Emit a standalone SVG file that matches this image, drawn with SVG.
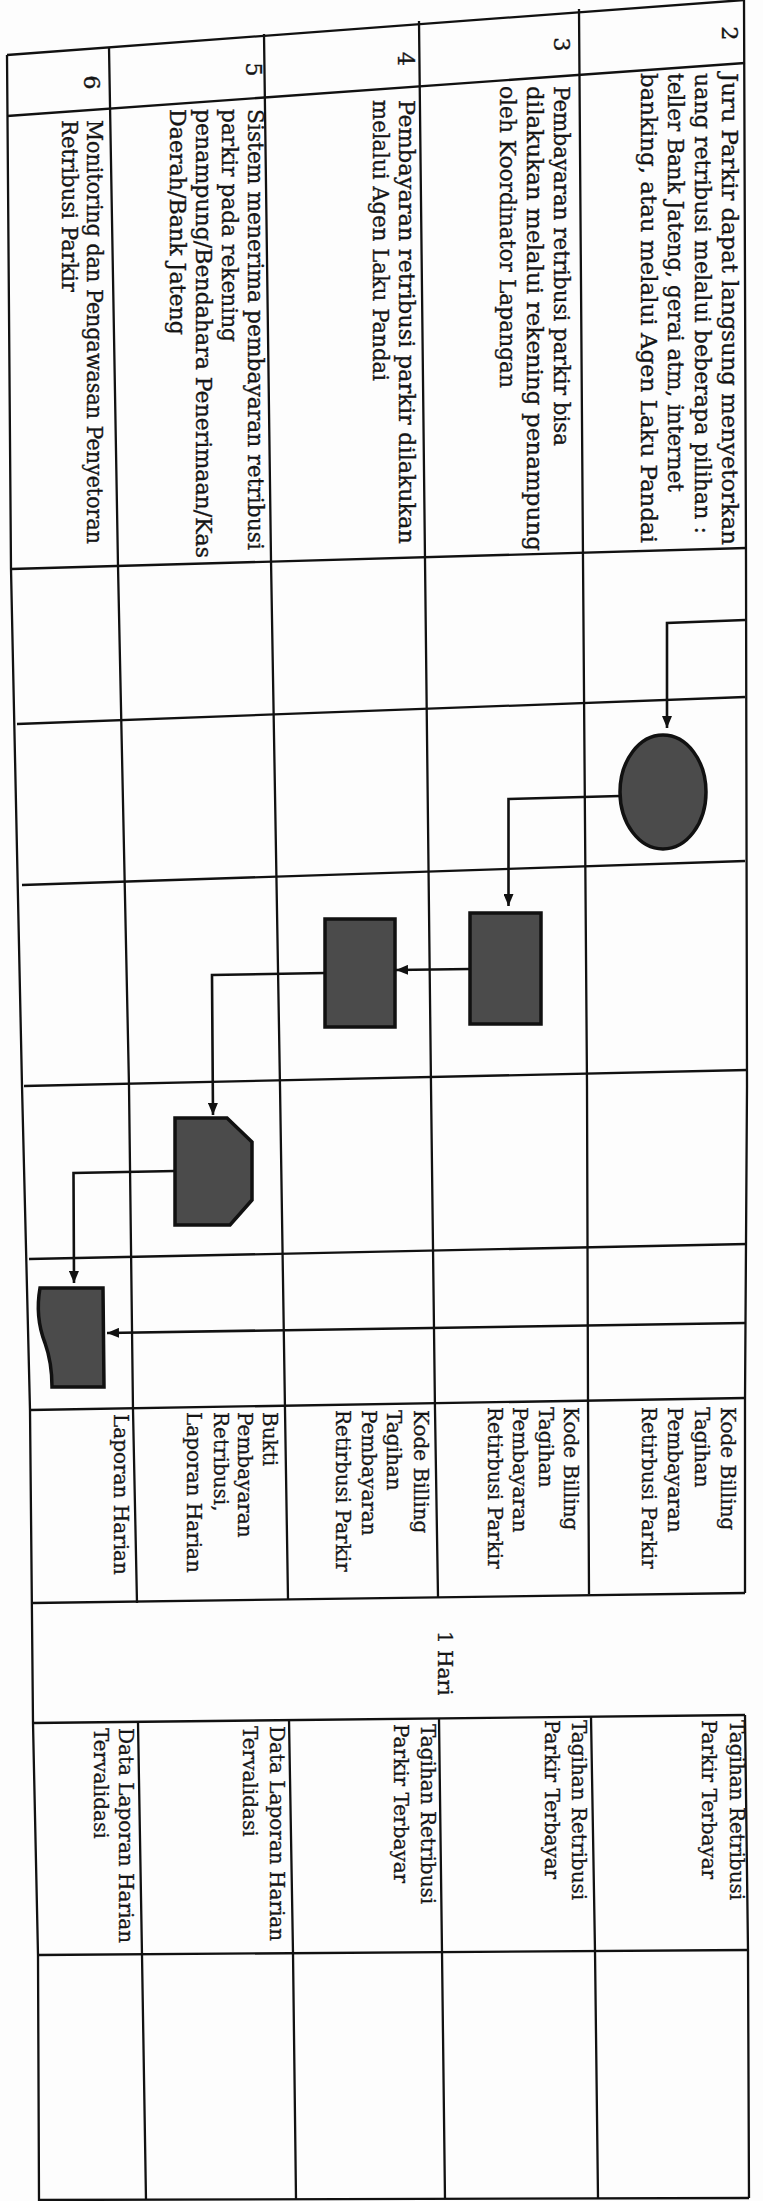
<svg xmlns="http://www.w3.org/2000/svg" width="763" height="2201" viewBox="0 0 763 2201">
<style>
.grid{fill:none;stroke:#111;stroke-width:2.3;stroke-linejoin:round}
.conn{fill:none;stroke:#111;stroke-width:2.6}
.shape{fill:#4b4b4b;stroke:#111;stroke-width:3.5;stroke-linejoin:miter}
.d{font-family:"DejaVu Serif","Liberation Serif",serif;font-size:22.5px;fill:#151515;stroke:#151515;stroke-width:0.35}
.s{font-family:"DejaVu Serif","Liberation Serif",serif;font-size:20px;fill:#151515;stroke:#151515;stroke-width:0.3}
.n{text-anchor:middle}
</style>
<defs>
<marker id="ah" viewBox="0 0 12 10" refX="12" refY="5" markerWidth="12" markerHeight="10" markerUnits="userSpaceOnUse" orient="auto"><path d="M0,0 L12,5 L0,10 z" fill="#111"/></marker>
</defs>
<rect x="0" y="0" width="763" height="2201" fill="#fdfdfd"/>
<g id="table" class="grid">
<polyline points="7,55 11,569 22,1086 30,1410 33,1723 38,1955 39,2201"/>
<polyline points="109,47 118,566 129,1086 133,1410 137,1603"/>
<polyline points="138,1722 142,1955 146,2200"/>
<polyline points="264,34 271,560 280,1086 285,1410 288,1599"/>
<polyline points="289,1719 293,1953 296,2199"/>
<polyline points="419,21 425,560 431,1086 435,1410 438,1597"/>
<polyline points="439,1718 442,1952 445,2199"/>
<polyline points="579,9 583,560 587,1086 588,1400 589,1594"/>
<polyline points="591,1716 595,1951 598,2198"/>
<polyline points="744,0 746,560 747,1086 745,1400 745,1593"/>
<polyline points="745,1715 748,1950 749,2198"/>
<line x1="7" y1="55" x2="744" y2="0"/>
<line x1="7" y1="116" x2="745" y2="63"/>
<line x1="11" y1="569" x2="746" y2="548"/>
<line x1="17" y1="724" x2="745" y2="697"/>
<line x1="22" y1="885" x2="745" y2="861"/>
<line x1="24" y1="1086" x2="747" y2="1070"/>
<line x1="29" y1="1259" x2="747" y2="1244"/>
<line x1="30" y1="1410" x2="745" y2="1398"/>
<line x1="33" y1="1603" x2="745" y2="1593"/>
<line x1="33" y1="1723" x2="745" y2="1715"/>
<line x1="38" y1="1955" x2="748" y2="1950"/>
<line x1="39" y1="2200" x2="749" y2="2198"/>
</g>
<g id="row2-text">
<text class="d n" transform="translate(722,33.5) rotate(90)">2</text>
<text class="d" transform="translate(722,73) rotate(90)" textLength="472" lengthAdjust="spacingAndGlyphs">Juru Parkir dapat langsung menyetorkan</text>
<text class="d" transform="translate(695,73) rotate(90)" textLength="461" lengthAdjust="spacingAndGlyphs">uang retribusi melalui beberapa pilihan :</text>
<text class="d" transform="translate(668,73) rotate(90)" textLength="419" lengthAdjust="spacingAndGlyphs">teller Bank Jateng, gerai atm, internet</text>
<text class="d" transform="translate(641,73) rotate(90)" textLength="470" lengthAdjust="spacingAndGlyphs">banking, atau melalui Agen Laku Pandai</text>
<text class="s" transform="translate(721,1407) rotate(90)">Kode Billing</text>
<text class="s" transform="translate(695,1407) rotate(90)">Tagihan</text>
<text class="s" transform="translate(668,1407) rotate(90)">Pembayaran</text>
<text class="s" transform="translate(642,1407) rotate(90)">Retirbusi Parkir</text>
<text class="s" transform="translate(730,1720) rotate(90)">Tagihan Retribusi</text>
<text class="s" transform="translate(702,1720) rotate(90)">Parkir Terbayar</text>
</g>
<g id="row3-text">
<text class="d n" transform="translate(554,44.5) rotate(90)">3</text>
<text class="d" transform="translate(554,86) rotate(90)" textLength="360" lengthAdjust="spacingAndGlyphs">Pembayaran retribusi parkir bisa</text>
<text class="d" transform="translate(527,86) rotate(90)" textLength="465" lengthAdjust="spacingAndGlyphs">dilakukan melalui rekening penampung</text>
<text class="d" transform="translate(500,86) rotate(90)" textLength="302" lengthAdjust="spacingAndGlyphs">oleh Koordinator Lapangan</text>
<text class="s" transform="translate(564,1407) rotate(90)">Kode Billing</text>
<text class="s" transform="translate(539,1407) rotate(90)">Tagihan</text>
<text class="s" transform="translate(513,1407) rotate(90)">Pembayaran</text>
<text class="s" transform="translate(488,1407) rotate(90)">Retirbusi Parkir</text>
<text class="s" transform="translate(572,1720) rotate(90)">Tagihan Retribusi</text>
<text class="s" transform="translate(545,1720) rotate(90)">Parkir Terbayar</text>
</g>
<g id="row4-text">
<text class="d n" transform="translate(398,59) rotate(90)">4</text>
<text class="d" transform="translate(399,100) rotate(90)" textLength="444" lengthAdjust="spacingAndGlyphs">Pembayaran retribusi parkir dilakukan</text>
<text class="d" transform="translate(373,100) rotate(90)" textLength="281" lengthAdjust="spacingAndGlyphs">melalui Agen Laku Pandai</text>
<text class="s" transform="translate(414,1410) rotate(90)">Kode Billing</text>
<text class="s" transform="translate(387,1410) rotate(90)">Tagihan</text>
<text class="s" transform="translate(362,1410) rotate(90)">Pembayaran</text>
<text class="s" transform="translate(336,1410) rotate(90)">Retirbusi Parkir</text>
<text class="s" transform="translate(421,1724) rotate(90)">Tagihan Retribusi</text>
<text class="s" transform="translate(394,1724) rotate(90)">Parkir Terbayar</text>
</g>
<g id="row5-text">
<text class="d n" transform="translate(246,69.5) rotate(90)">5</text>
<text class="d" transform="translate(248,109) rotate(90)" textLength="441" lengthAdjust="spacingAndGlyphs">Sistem menerima pembayaran retribusi</text>
<text class="d" transform="translate(222,109) rotate(90)" textLength="233" lengthAdjust="spacingAndGlyphs">parkir pada rekening</text>
<text class="d" transform="translate(196,109) rotate(90)" textLength="449" lengthAdjust="spacingAndGlyphs">penampung/Bendahara Penerimaan/Kas</text>
<text class="d" transform="translate(170,109) rotate(90)" textLength="226" lengthAdjust="spacingAndGlyphs">Daerah/Bank Jateng</text>
<text class="s" transform="translate(263,1412) rotate(90)">Bukti</text>
<text class="s" transform="translate(238,1412) rotate(90)">Pembayaran</text>
<text class="s" transform="translate(214,1412) rotate(90)">Retribusi,</text>
<text class="s" transform="translate(187,1412) rotate(90)">Laporan Harian</text>
<text class="s" transform="translate(270,1726) rotate(90)">Data Laporan Harian</text>
<text class="s" transform="translate(243,1726) rotate(90)">Tervalidasi</text>
</g>
<g id="row6-text">
<text class="d n" transform="translate(84,82.5) rotate(90)">6</text>
<text class="d" transform="translate(87,120) rotate(90)" textLength="424" lengthAdjust="spacingAndGlyphs">Monitoring dan Pengawasan Penyetoran</text>
<text class="d" transform="translate(62,120) rotate(90)" textLength="172" lengthAdjust="spacingAndGlyphs">Retribusi Parkir</text>
<text class="s" transform="translate(114,1414) rotate(90)">Laporan Harian</text>
<text class="s" transform="translate(119,1728) rotate(90)">Data Laporan Harian</text>
<text class="s" transform="translate(94,1728) rotate(90)">Tervalidasi</text>
</g>
<g id="duration">
<text class="s" transform="translate(438,1631) rotate(90)">1 Hari</text>
</g>
<g id="connectors">
<path class="conn" d="M745,620 L667,623 L667,728" marker-end="url(#ah)"/>
<path class="conn" d="M620,796 L508.5,799 L508.5,906" marker-end="url(#ah)"/>
<path class="conn" d="M470,969 L396,970" marker-end="url(#ah)"/>
<path class="conn" d="M325,973 L212,975 L213,1115" marker-end="url(#ah)"/>
<path class="conn" d="M175,1171 L73.5,1173 L74,1283" marker-end="url(#ah)"/>
<path class="conn" d="M745,1323 L107,1333" marker-end="url(#ah)"/>
</g>
<g id="node-start">
<ellipse class="shape" cx="663" cy="792" rx="43" ry="57"/>
</g>
<g id="node-process-a">
<rect class="shape" x="470" y="913" width="71" height="111"/>
</g>
<g id="node-process-b">
<rect class="shape" x="325" y="919" width="70" height="108"/>
</g>
<g id="node-display">
<polygon class="shape" points="175,1118 227,1118 252,1142 252,1200 230,1225 175,1225"/>
</g>
<g id="node-document">
<path class="shape" d="M40,1288 L103,1288 L104,1387 L52,1387 C52,1372 50,1357 45,1343 C38,1325 37,1305 40,1288 Z"/>
</g>
</svg>
